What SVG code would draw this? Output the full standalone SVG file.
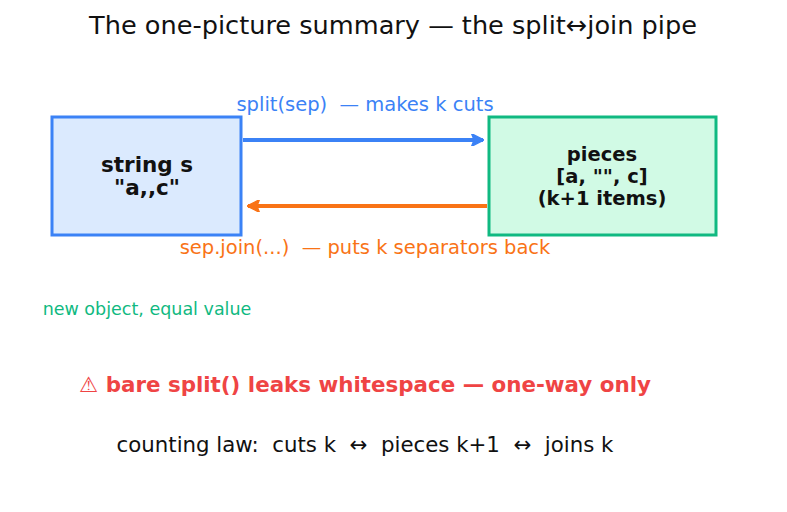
<svg xmlns="http://www.w3.org/2000/svg" width="787" height="512" viewBox="0 0 787 512">
<style>
text{font-family:"DejaVu Sans",sans-serif;text-anchor:middle;white-space:pre}
.t{font-size:25.6px;fill:#111}
.nb{font-weight:bold;fill:#111}
.lab{font-size:19.5px}
</style>
<defs>
<marker id="ab" viewBox="0 0 10 10" refX="9" refY="5" markerWidth="3.2" markerHeight="3.2" orient="auto"><path d="M0,0 L10,5 L0,10 L2,5 z" fill="#3b82f6" stroke="#3b82f6" stroke-width="1" stroke-linejoin="round"/></marker>
<marker id="ao" viewBox="0 0 10 10" refX="9" refY="5" markerWidth="3.2" markerHeight="3.2" orient="auto"><path d="M0,0 L10,5 L0,10 L2,5 z" fill="#f97316" stroke="#f97316" stroke-width="1" stroke-linejoin="round"/></marker>
</defs>
<rect width="787" height="512" fill="#fff"/>
<text class="t" x="393" y="34">The one-picture summary — the split↔join pipe</text>
<g id="string-s">
<rect x="52" y="117" width="189" height="118" fill="#dbeafe" stroke="#3b82f6" stroke-width="3"/>
<text class="nb" x="147" y="172" font-size="21.5">string s</text>
<text class="nb" x="147" y="195" font-size="21.5">"a,,c"</text>
</g>
<g id="pieces">
<rect x="489" y="117" width="227" height="118" fill="#d1fae5" stroke="#10b981" stroke-width="3"/>
<text class="nb" x="602" y="161" font-size="19.5">pieces</text>
<text class="nb" x="602" y="183" font-size="19.5">[a, "", c]</text>
<text class="nb" x="602" y="205" font-size="19.5">(k+1 items)</text>
</g>
<g id="connectors">
<line x1="243" y1="140" x2="483" y2="140" stroke="#3b82f6" stroke-width="4" marker-end="url(#ab)"/>
<line x1="487" y1="206" x2="248" y2="206" stroke="#f97316" stroke-width="4" marker-end="url(#ao)"/>
<text class="lab" x="365" y="111" fill="#3b82f6">split(sep)  — makes k cuts</text>
<text class="lab" x="365" y="254" fill="#f97316">sep.join(...)  — puts k separators back</text>
</g>
<text x="147" y="315" font-size="17.5" fill="#10b981">new object, equal value</text>
<text x="365" y="392" font-size="21.4" font-weight="bold" fill="#ef4444">⚠ bare split() leaks whitespace — one-way only</text>
<text x="365" y="452" font-size="21.3" fill="#111">counting law:  cuts k  ↔  pieces k+1  ↔  joins k</text>
</svg>
